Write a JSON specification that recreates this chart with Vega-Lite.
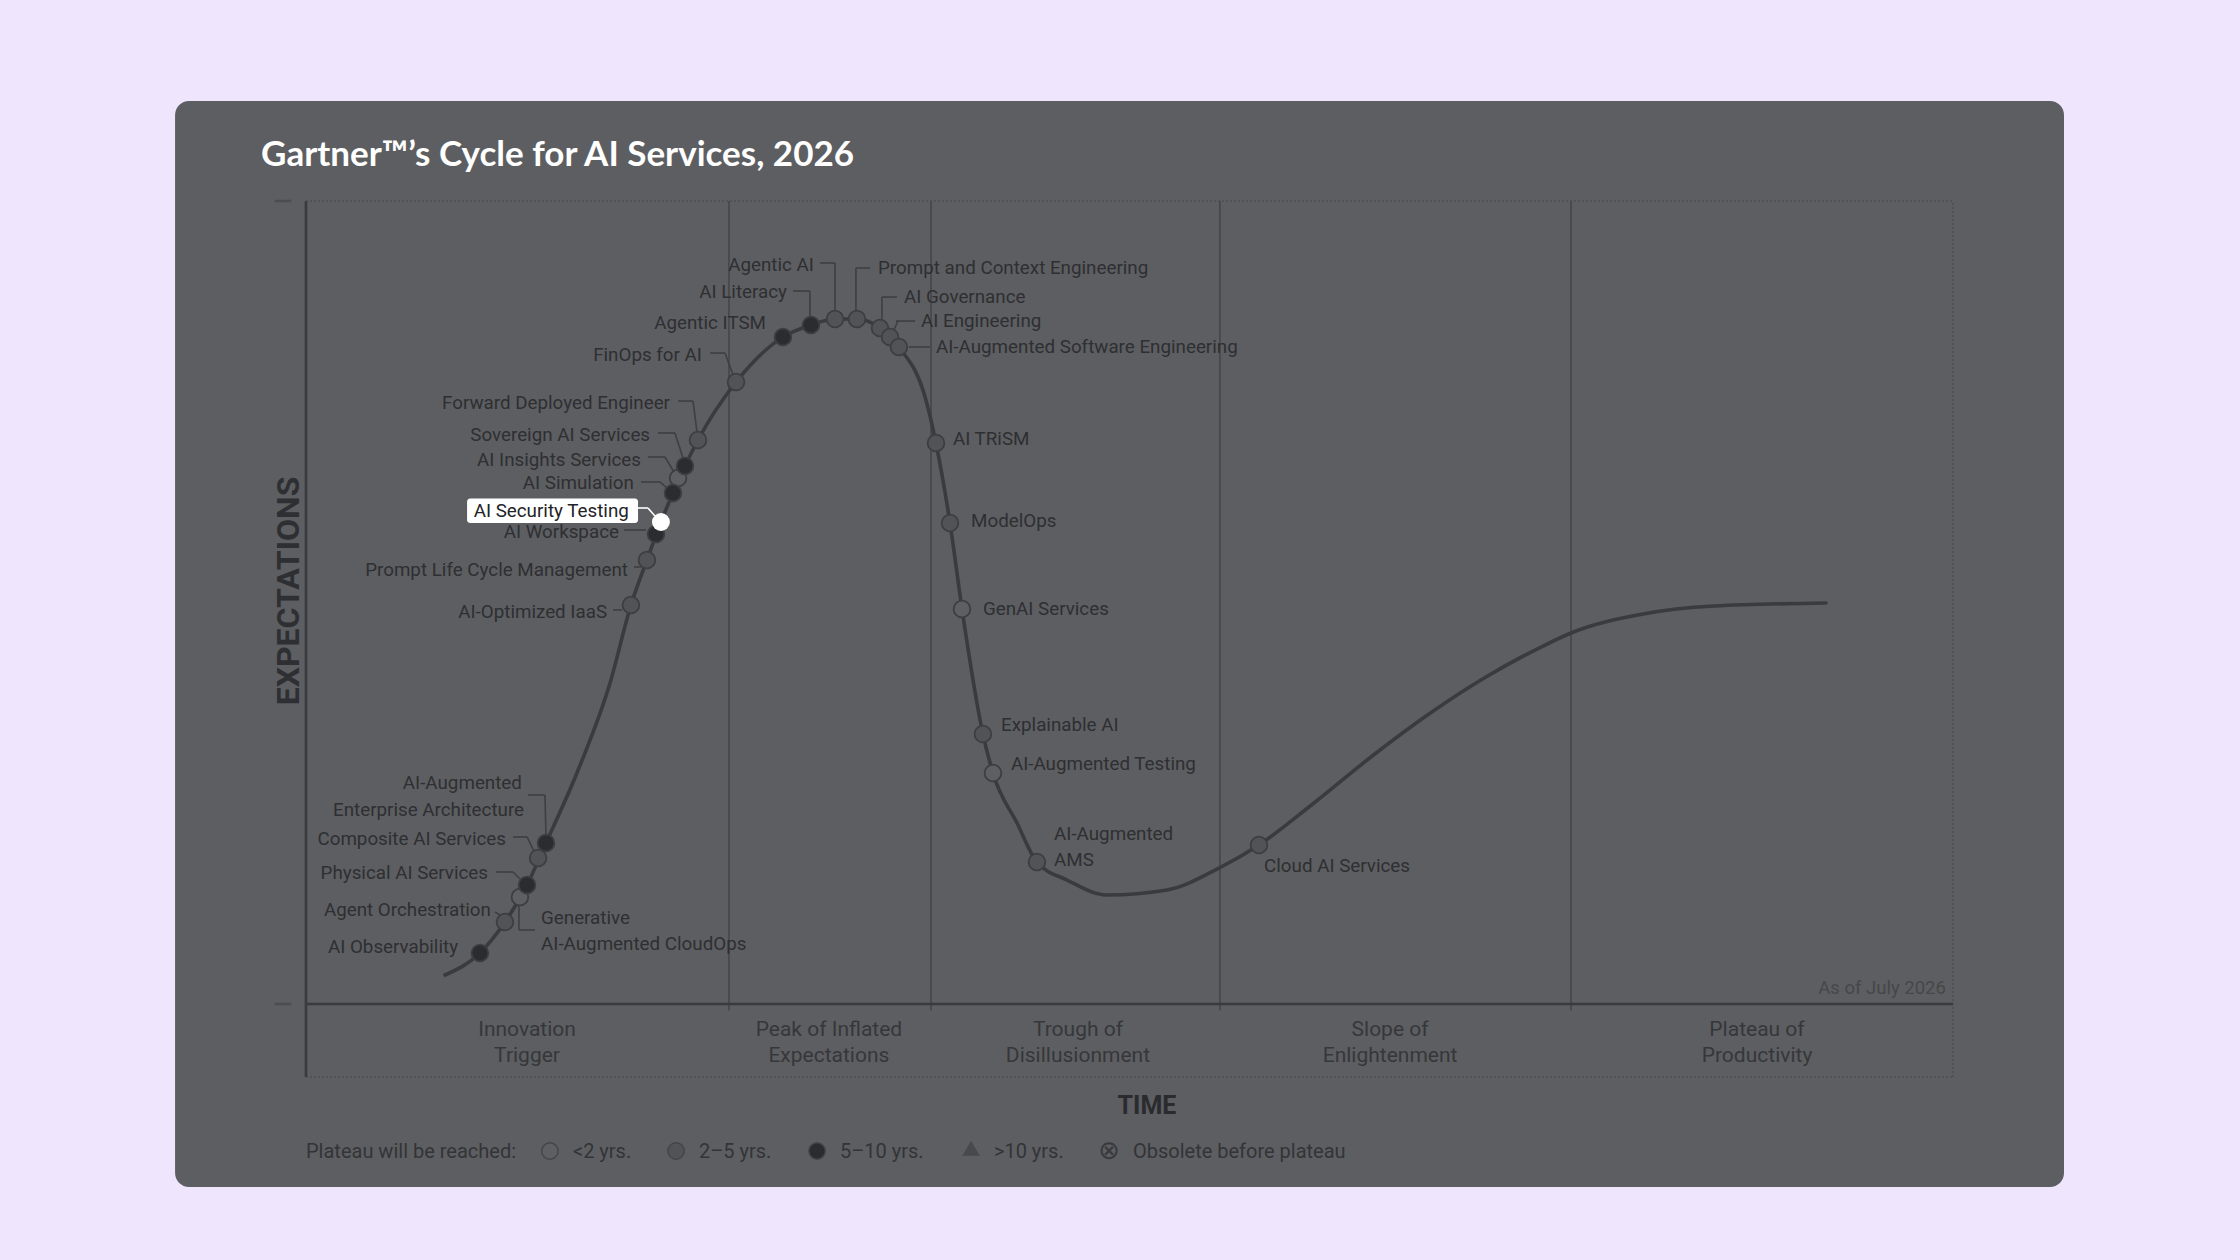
{
  "$schema": "https://vega.github.io/schema/vega-lite/v6.json",
  "autosize": {"type": "none"},
  "width": 1647,
  "height": 803,
  "padding": {"left": 306, "top": 201, "right": 287, "bottom": 256},
  "background": "#EFE6FD",
  "config": {"view": {"stroke": null}},
  "datasets": {
    "card": [{"x": -7.95, "x2": 106.74, "y": 112.45, "y2": -22.79}],
    "axisLines": [
      {"x": 0, "x2": 0, "y": -9.09, "y2": 100},
      {"x": 0, "x2": 100, "y": 0, "y2": 0}
    ],
    "dotted": [
      {"x": 0, "x2": 100, "y": 100, "y2": 100},
      {"x": 100, "x2": 100, "y": -9.09, "y2": 100},
      {"x": 0, "x2": 100, "y": -9.09, "y2": -9.09}
    ],
    "dividers": [
      {"x": 25.68, "x2": 25.68, "y": -0.8, "y2": 100},
      {"x": 37.95, "x2": 37.95, "y": -0.8, "y2": 100},
      {"x": 55.49, "x2": 55.49, "y": -0.8, "y2": 100},
      {"x": 76.81, "x2": 76.81, "y": -0.8, "y2": 100}
    ],
    "yticks": [
      {"x": -1.9, "x2": -0.9, "y": 100, "y2": 100},
      {"x": -1.9, "x2": -0.9, "y": 0, "y2": 0}
    ],
    "curve": [
      {"x": 8.44, "y": 3.61}, {"x": 10.56, "y": 6.35}, {"x": 12.08, "y": 10.21}, {"x": 13.42, "y": 14.82},
      {"x": 14.57, "y": 20.05}, {"x": 16.45, "y": 28.77}, {"x": 18.46, "y": 39.97}, {"x": 19.73, "y": 49.69},
      {"x": 20.7, "y": 55.29}, {"x": 21.55, "y": 60.02}, {"x": 22.28, "y": 63.64}, {"x": 23.01, "y": 67.0},
      {"x": 23.8, "y": 70.24}, {"x": 26.11, "y": 77.46}, {"x": 28.96, "y": 83.06}, {"x": 30.66, "y": 84.56},
      {"x": 32.12, "y": 85.3}, {"x": 33.45, "y": 85.3}, {"x": 34.85, "y": 84.18}, {"x": 36.0, "y": 81.82},
      {"x": 37.64, "y": 75.22}, {"x": 38.25, "y": 69.86}, {"x": 39.1, "y": 59.9}, {"x": 39.83, "y": 49.19},
      {"x": 41.1, "y": 33.62}, {"x": 41.71, "y": 28.77}, {"x": 43.17, "y": 22.54}, {"x": 44.38, "y": 17.68},
      {"x": 46.21, "y": 15.44}, {"x": 48.63, "y": 13.57}, {"x": 52.28, "y": 14.2}, {"x": 55.56, "y": 17.06},
      {"x": 57.86, "y": 19.8}, {"x": 61.2, "y": 25.03}, {"x": 64.66, "y": 30.76}, {"x": 68.18, "y": 36.11},
      {"x": 71.64, "y": 40.72}, {"x": 75.11, "y": 44.58}, {"x": 76.81, "y": 46.2}, {"x": 81.18, "y": 48.57},
      {"x": 85.49, "y": 49.56}, {"x": 92.29, "y": 49.94}
    ],
    "leaders": [
      {"x": 24.53, "x2": 25.44, "y": 81.07, "y2": 81.07}, {"x": 25.44, "x2": 25.93, "y": 81.07, "y2": 78.33},
      {"x": 22.59, "x2": 23.5, "y": 75.09, "y2": 75.09}, {"x": 23.5, "x2": 23.74, "y": 75.09, "y2": 71.23},
      {"x": 21.37, "x2": 22.4, "y": 71.11, "y2": 71.11}, {"x": 22.4, "x2": 22.89, "y": 71.11, "y2": 67.99},
      {"x": 20.76, "x2": 21.8, "y": 68.12, "y2": 68.12}, {"x": 21.8, "x2": 22.34, "y": 68.12, "y2": 66.25},
      {"x": 20.34, "x2": 21.49, "y": 65.01, "y2": 65.01}, {"x": 21.49, "x2": 21.92, "y": 65.01, "y2": 64.26},
      {"x": 19.31, "x2": 20.64, "y": 59.03, "y2": 59.03},
      {"x": 19.91, "x2": 20.34, "y": 54.42, "y2": 54.42}, {"x": 20.34, "x2": 20.52, "y": 54.42, "y2": 54.92},
      {"x": 18.64, "x2": 19.19, "y": 49.07, "y2": 49.07},
      {"x": 29.57, "x2": 30.6, "y": 88.79, "y2": 88.79}, {"x": 30.6, "x2": 30.6, "y": 88.79, "y2": 85.68},
      {"x": 31.21, "x2": 32.12, "y": 92.28, "y2": 92.28}, {"x": 32.12, "x2": 32.12, "y": 92.28, "y2": 86.43},
      {"x": 33.39, "x2": 34.24, "y": 91.66, "y2": 91.66}, {"x": 33.39, "x2": 33.39, "y": 91.66, "y2": 86.3},
      {"x": 34.97, "x2": 35.88, "y": 88.04, "y2": 88.04}, {"x": 34.97, "x2": 34.97, "y": 88.04, "y2": 85.18},
      {"x": 35.82, "x2": 36.98, "y": 85.05, "y2": 85.05}, {"x": 35.94, "x2": 35.7, "y": 85.05, "y2": 83.93},
      {"x": 36.61, "x2": 37.89, "y": 81.82, "y2": 81.82},
      {"x": 13.48, "x2": 14.51, "y": 26.03, "y2": 26.03}, {"x": 14.51, "x2": 14.57, "y": 26.03, "y2": 21.05},
      {"x": 12.57, "x2": 13.42, "y": 20.8, "y2": 20.8}, {"x": 13.42, "x2": 13.84, "y": 20.8, "y2": 19.05},
      {"x": 11.54, "x2": 12.57, "y": 16.44, "y2": 16.44}, {"x": 12.57, "x2": 12.99, "y": 16.44, "y2": 15.57},
      {"x": 11.48, "x2": 11.78, "y": 11.46, "y2": 11.08},
      {"x": 13.9, "x2": 12.93, "y": 9.22, "y2": 9.22}, {"x": 12.93, "x2": 12.93, "y": 9.22, "y2": 12.2}
    ],
    "hlLeader": [
      {"x": 20.16, "x2": 20.76, "y": 61.77, "y2": 61.77}, {"x": 20.76, "x2": 21.19, "y": 61.77, "y2": 60.77}
    ],
    "dots": [
      {"name": "AI Observability", "x": 10.56, "y": 6.35, "cat": "5-10"},
      {"name": "Agent Orchestration", "x": 12.08, "y": 10.21, "cat": "2-5"},
      {"name": "Generative AI-Augmented CloudOps", "x": 12.99, "y": 13.32, "cat": "<2"},
      {"name": "Physical AI Services", "x": 13.42, "y": 14.82, "cat": "5-10"},
      {"name": "Composite AI Services", "x": 14.09, "y": 18.18, "cat": "2-5"},
      {"name": "AI-Augmented Enterprise Architecture", "x": 14.57, "y": 20.05, "cat": "5-10"},
      {"name": "AI-Optimized IaaS", "x": 19.73, "y": 49.69, "cat": "2-5"},
      {"name": "Prompt Life Cycle Management", "x": 20.7, "y": 55.29, "cat": "2-5"},
      {"name": "AI Insights Services", "x": 22.59, "y": 65.5, "cat": "<2"},
      {"name": "AI Workspace", "x": 21.25, "y": 58.53, "cat": "5-10"},
      {"name": "AI Simulation", "x": 22.28, "y": 63.64, "cat": "5-10"},
      {"name": "Sovereign AI Services", "x": 23.01, "y": 67.0, "cat": "5-10"},
      {"name": "Forward Deployed Engineer", "x": 23.8, "y": 70.24, "cat": "2-5"},
      {"name": "FinOps for AI", "x": 26.11, "y": 77.46, "cat": "2-5"},
      {"name": "Agentic ITSM", "x": 28.96, "y": 83.06, "cat": "5-10"},
      {"name": "AI Literacy", "x": 30.66, "y": 84.56, "cat": "5-10"},
      {"name": "Agentic AI", "x": 32.12, "y": 85.3, "cat": "2-5"},
      {"name": "Prompt and Context Engineering", "x": 33.45, "y": 85.3, "cat": "2-5"},
      {"name": "AI Governance", "x": 34.85, "y": 84.18, "cat": "2-5"},
      {"name": "AI Engineering", "x": 35.46, "y": 83.06, "cat": "2-5"},
      {"name": "AI-Augmented Software Engineering", "x": 36.0, "y": 81.82, "cat": "2-5"},
      {"name": "AI TRiSM", "x": 38.25, "y": 69.86, "cat": "2-5"},
      {"name": "ModelOps", "x": 39.1, "y": 59.9, "cat": "2-5"},
      {"name": "GenAI Services", "x": 39.83, "y": 49.19, "cat": "<2"},
      {"name": "Explainable AI", "x": 41.1, "y": 33.62, "cat": "2-5"},
      {"name": "AI-Augmented Testing", "x": 41.71, "y": 28.77, "cat": "<2"},
      {"name": "AI-Augmented AMS", "x": 44.38, "y": 17.68, "cat": "2-5"},
      {"name": "Cloud AI Services", "x": 57.86, "y": 19.8, "cat": "2-5"}
    ],
    "hlDot": [{"name": "AI Security Testing", "x": 21.55, "y": 60.02}],
    "hlBox": [{"x": 9.78, "x2": 20.16, "y": 62.96, "y2": 59.9}],
    "hlText": [{"text": "AI Security Testing", "x": 19.6, "y": 61.45}],
    "labelsR": [
      {"text": "FinOps for AI", "x": 24.04, "y": 80.82},
      {"text": "Forward Deployed Engineer", "x": 22.1, "y": 74.84},
      {"text": "Sovereign AI Services", "x": 20.89, "y": 70.86},
      {"text": "AI Insights Services", "x": 20.34, "y": 67.74},
      {"text": "AI Simulation", "x": 19.91, "y": 64.88},
      {"text": "AI Workspace", "x": 19.0, "y": 58.78},
      {"text": "Prompt Life Cycle Management", "x": 19.55, "y": 54.05},
      {"text": "AI-Optimized IaaS", "x": 18.28, "y": 48.82},
      {"text": "AI-Augmented", "x": 13.11, "y": 27.52},
      {"text": "Enterprise Architecture", "x": 13.24, "y": 24.16},
      {"text": "Composite AI Services", "x": 12.14, "y": 20.55},
      {"text": "Physical AI Services", "x": 11.05, "y": 16.31},
      {"text": "Agent Orchestration", "x": 11.23, "y": 11.71},
      {"text": "AI Observability", "x": 9.23, "y": 7.1},
      {"text": "Agentic ITSM", "x": 27.93, "y": 84.81},
      {"text": "AI Literacy", "x": 29.2, "y": 88.67},
      {"text": "Agentic AI", "x": 30.84, "y": 92.03}
    ],
    "labelsL": [
      {"text": "Prompt and Context Engineering", "x": 34.73, "y": 91.66},
      {"text": "AI Governance", "x": 36.31, "y": 88.04},
      {"text": "AI Engineering", "x": 37.34, "y": 85.05},
      {"text": "AI-Augmented Software Engineering", "x": 38.25, "y": 81.82},
      {"text": "AI TRiSM", "x": 39.28, "y": 70.36},
      {"text": "ModelOps", "x": 40.38, "y": 60.15},
      {"text": "GenAI Services", "x": 41.1, "y": 49.19},
      {"text": "Explainable AI", "x": 42.2, "y": 34.74},
      {"text": "AI-Augmented Testing", "x": 42.8, "y": 29.89},
      {"text": "AI-Augmented", "x": 45.42, "y": 21.17},
      {"text": "AMS", "x": 45.42, "y": 17.93},
      {"text": "Cloud AI Services", "x": 58.17, "y": 17.19},
      {"text": "Generative", "x": 14.27, "y": 10.71},
      {"text": "AI-Augmented CloudOps", "x": 14.27, "y": 7.47}
    ],
    "phases": [
      {"text": "Innovation", "x": 13.42, "y": -3.24}, {"text": "Trigger", "x": 13.42, "y": -6.48},
      {"text": "Peak of Inflated", "x": 31.75, "y": -3.24}, {"text": "Expectations", "x": 31.75, "y": -6.48},
      {"text": "Trough of", "x": 46.87, "y": -3.24}, {"text": "Disillusionment", "x": 46.87, "y": -6.48},
      {"text": "Slope of", "x": 65.82, "y": -3.24}, {"text": "Enlightenment", "x": 65.82, "y": -6.48},
      {"text": "Plateau of", "x": 88.1, "y": -3.24}, {"text": "Productivity", "x": 88.1, "y": -6.48}
    ],
    "title": [{"text": "Gartner™’s Cycle for AI Services, 2026", "x": -2.73, "y": 105.75}],
    "yTitle": [{"text": "EXPECTATIONS", "x": -1.03, "y": 51.43}],
    "xTitle": [{"text": "TIME", "x": 51.06, "y": -12.7}],
    "asOf": [{"text": "As of July 2026", "x": 99.57, "y": 1.99}],
    "legendText": [
      {"text": "Plateau will be reached:", "x": 0, "y": -18.4},
      {"text": "<2 yrs.", "x": 16.21, "y": -18.4},
      {"text": "2–5 yrs.", "x": 23.86, "y": -18.4},
      {"text": "5–10 yrs.", "x": 32.42, "y": -18.4},
      {"text": ">10 yrs.", "x": 41.77, "y": -18.4},
      {"text": "Obsolete before plateau", "x": 50.21, "y": -18.4}
    ],
    "legendCircles": [
      {"x": 14.81, "y": -18.31, "cat": "<2"},
      {"x": 22.47, "y": -18.31, "cat": "2-5"},
      {"x": 31.03, "y": -18.31, "cat": "5-10"}
    ],
    "legendTri": [{"x": 40.38, "y": -17.95}],
    "legendObs": [{"text": "⊗", "x": 48.76, "y": -18.31}]
  },
  "encoding": {
    "x": {"field": "x", "type": "quantitative", "scale": {"domain": [0, 100], "nice": false, "zero": false}, "axis": null},
    "y": {"field": "y", "type": "quantitative", "scale": {"domain": [0, 100], "nice": false, "zero": false}, "axis": null}
  },
  "layer": [
    {"data": {"name": "card"}, "mark": {"type": "rect", "fill": "#5D5E61", "cornerRadius": 14},
     "encoding": {"x2": {"field": "x2"}, "y2": {"field": "y2"}}},
    {"data": {"name": "dotted"}, "mark": {"type": "rule", "stroke": "#4E4F52", "strokeWidth": 1.5, "strokeDash": [2, 2]},
     "encoding": {"x2": {"field": "x2"}, "y2": {"field": "y2"}}},
    {"data": {"name": "dividers"}, "mark": {"type": "rule", "stroke": "#45464A", "strokeWidth": 1.6},
     "encoding": {"x2": {"field": "x2"}, "y2": {"field": "y2"}}},
    {"data": {"name": "axisLines"}, "mark": {"type": "rule", "stroke": "#3A3B3E", "strokeWidth": 2.6},
     "encoding": {"x2": {"field": "x2"}, "y2": {"field": "y2"}}},
    {"data": {"name": "yticks"}, "mark": {"type": "rule", "stroke": "#4C4D50", "strokeWidth": 2.5},
     "encoding": {"x2": {"field": "x2"}, "y2": {"field": "y2"}}},
    {"data": {"name": "curve"}, "mark": {"type": "line", "stroke": "#3A3B3E", "strokeWidth": 3.6, "interpolate": "monotone", "strokeCap": "round"},
     "encoding": {}},
    {"data": {"name": "leaders"}, "mark": {"type": "rule", "stroke": "#3E3F42", "strokeWidth": 1.6},
     "encoding": {"x2": {"field": "x2"}, "y2": {"field": "y2"}}},
    {"data": {"name": "hlLeader"}, "mark": {"type": "rule", "stroke": "#FFFFFF", "strokeWidth": 1.6},
     "encoding": {"x2": {"field": "x2"}, "y2": {"field": "y2"}}},
    {"data": {"name": "dots"}, "mark": {"type": "point", "shape": "circle", "filled": true, "size": 280, "stroke": "#3D3E41", "strokeWidth": 1.8, "opacity": 1},
     "encoding": {"fill": {"field": "cat", "type": "nominal", "legend": null,
       "scale": {"domain": ["<2", "2-5", "5-10"], "range": ["#5E5F62", "#525356", "#2B2C2F"]}}}},
    {"data": {"name": "hlBox"}, "mark": {"type": "rect", "fill": "#FFFFFF", "cornerRadius": 3},
     "encoding": {"x2": {"field": "x2"}, "y2": {"field": "y2"}}},
    {"data": {"name": "hlDot"}, "mark": {"type": "point", "shape": "circle", "filled": true, "size": 320, "fill": "#FFFFFF", "opacity": 1},
     "encoding": {}},
    {"data": {"name": "hlText"}, "mark": {"type": "text", "align": "right", "baseline": "middle", "font": "Roboto", "fontSize": 18.8, "fill": "#222326"},
     "encoding": {"text": {"field": "text"}}},
    {"data": {"name": "labelsR"}, "mark": {"type": "text", "align": "right", "baseline": "middle", "font": "Roboto", "fontSize": 18.8, "fill": "#2E2F32"},
     "encoding": {"text": {"field": "text"}}},
    {"data": {"name": "labelsL"}, "mark": {"type": "text", "align": "left", "baseline": "middle", "font": "Roboto", "fontSize": 18.8, "fill": "#2E2F32"},
     "encoding": {"text": {"field": "text"}}},
    {"data": {"name": "phases"}, "mark": {"type": "text", "align": "center", "baseline": "middle", "font": "Roboto", "fontSize": 21, "fill": "#36373A"},
     "encoding": {"text": {"field": "text"}}},
    {"data": {"name": "title"}, "mark": {"type": "text", "align": "left", "baseline": "middle", "font": "Lato", "fontWeight": "bold", "fontSize": 35, "fill": "#FFFFFF"},
     "encoding": {"text": {"field": "text"}}},
    {"data": {"name": "yTitle"}, "mark": {"type": "text", "align": "center", "baseline": "middle", "angle": 270, "font": "Roboto", "fontWeight": "bold", "fontSize": 32, "fill": "#2E2F32"},
     "encoding": {"text": {"field": "text"}}},
    {"data": {"name": "xTitle"}, "mark": {"type": "text", "align": "center", "baseline": "middle", "font": "Roboto", "fontWeight": "bold", "fontSize": 25, "fill": "#2A2B2E"},
     "encoding": {"text": {"field": "text"}}},
    {"data": {"name": "asOf"}, "mark": {"type": "text", "align": "right", "baseline": "middle", "font": "Roboto", "fontSize": 18.5, "fill": "#464749"},
     "encoding": {"text": {"field": "text"}}},
    {"data": {"name": "legendText"}, "mark": {"type": "text", "align": "left", "baseline": "middle", "font": "Roboto", "fontSize": 20, "fill": "#333437"},
     "encoding": {"text": {"field": "text"}}},
    {"data": {"name": "legendCircles"}, "mark": {"type": "point", "shape": "circle", "filled": true, "size": 270, "stroke": "#444548", "strokeWidth": 1.4, "opacity": 1},
     "encoding": {"fill": {"field": "cat", "type": "nominal", "legend": null,
       "scale": {"domain": ["<2", "2-5", "5-10"], "range": ["#5E5F62", "#525356", "#2B2C2F"]}}}},
    {"data": {"name": "legendTri"}, "mark": {"type": "point", "shape": "triangle-up", "filled": true, "size": 300, "fill": "#48494C", "opacity": 1},
     "encoding": {}},
    {"data": {"name": "legendObs"}, "mark": {"type": "text", "align": "center", "baseline": "middle", "font": "DejaVu Sans", "fontSize": 26, "fill": "#38393C"},
     "encoding": {"text": {"field": "text"}}}
  ]
}
